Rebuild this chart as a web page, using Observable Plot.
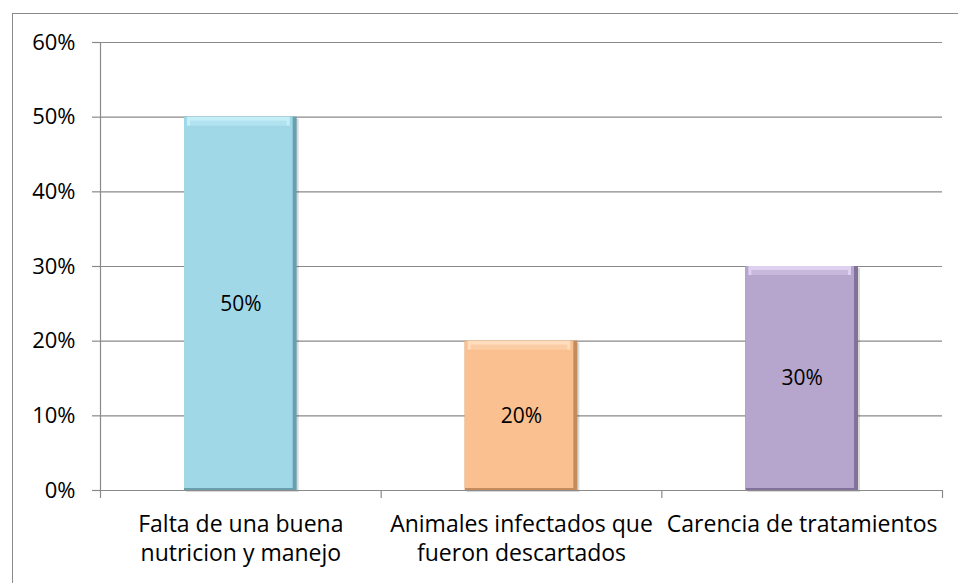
<!DOCTYPE html>
<html>
<head>
<meta charset="utf-8">
<script src="https://cdn.jsdelivr.net/npm/d3@7"></script>
<script src="https://cdn.jsdelivr.net/npm/@observablehq/plot@0.6"></script>
<style>
  html, body { margin: 0; padding: 0; background: #fff; }
  #wrap { position: relative; width: 958px; height: 583px; overflow: hidden; }
  #border { position: absolute; left: 12px; top: 13px; width: 980px; height: 620px;
            border: 1px solid #8a8a8a; box-sizing: border-box; }
  #chart { position: absolute; left: 0; top: 0; }
</style>
</head>
<body>
<div id="wrap"><div id="border"></div><div id="chart"></div></div>
<script>
// Causes and their share
const categories = [
  "Falta de una buena nutricion y manejo",
  "Animales infectados que fueron descartados",
  "Carencia de tratamientos"
];
const axisLabels = [
  "Falta de una buena\nnutricion y manejo",
  "Animales infectados que\nfueron descartados",
  "Carencia de tratamientos"
];
const values = [0.5, 0.2, 0.3];
const valueLabels = ["50%", "20%", "30%"];
const yTicks = [0, 0.1, 0.2, 0.3, 0.4, 0.5, 0.6];

// Bar palette: main fill, lit top edge, shaded right/bottom edge
const mainFill = ["#a0d8e8", "#fac090", "#b6a5cc"];
const litFill  = ["#c4eef8", "#ffdcbc", "#ddd0f0"];
const darkFill = ["#6a9fae", "#c48c5c", "#80729a"];

const rows = categories.map((c, i) => ({
  cat: c, label: axisLabels[i], i, value: values[i], text: valueLabels[i],
  main: mainFill[i], lit: litFill[i], dark: darkFill[i]
}));

const font = "'Open Sans', sans-serif";
const grid = "#8a8a8a";
const barInset = 84;

const bar = (extra) => ({
  x1: "i", x2: d => d.i + 1, y1: 0, y2: "value",
  insetLeft: barInset + (extra.l || 0), insetRight: barInset + (extra.r || 0),
  insetTop: extra.t || 0, insetBottom: extra.b || 0
});

const chart = Plot.plot({
  width: 958,
  height: 583,
  marginLeft: 100,
  marginRight: 16,
  marginTop: 42,
  marginBottom: 93,
  style: { fontFamily: font, fontSize: "22px", color: "#000", background: "transparent", overflow: "visible" },
  x: { type: "linear", domain: [0, 3] },
  y: { domain: [0, 0.6] },
  marks: [
    Plot.ruleY(yTicks.slice(1), { stroke: grid, strokeWidth: 1.2 }),
    // soft drop shadow
    Plot.rectY(rows, { ...bar({}), fill: "#000", fillOpacity: 0.15, dx: 2, dy: 2 }),
    // bevel layers: shaded edge, main face, lit band at the top
    Plot.rectY(rows, { ...bar({}), fill: "dark" }),
    Plot.rectY(rows, { ...bar({ r: 4, b: 2 }), fill: "main" }),
    Plot.rectY(rows, { ...bar({ l: 3, r: 7 }), y1: "value", y2: "value", insetTop: 0, insetBottom: -9, fill: "lit" }),
    Plot.rectY(rows, { ...bar({ l: 6, r: 10 }), y1: "value", y2: "value", insetTop: 4, insetBottom: -11, fill: "main", fillOpacity: 0.55 }),
    Plot.text(rows, {
      x: d => d.i + 0.5, y: d => d.value / 2, text: "text",
      fontSize: 21, fill: "#000"
    }),
    // axes
    Plot.ruleX([0], { y1: 0, y2: 0.6, stroke: grid, strokeWidth: 1.2 }),
    Plot.ruleY([0], { x1: 0, x2: 3, stroke: grid, strokeWidth: 1.2 }),
    Plot.axisY({
      ticks: yTicks, tickFormat: d => `${Math.round(d * 100)}%`,
      tickSize: 8, tickPadding: 17, stroke: grid, strokeWidth: 1.2,
      fontSize: 22, fill: "#000", label: null
    }),
    Plot.axisX({
      ticks: [0, 1, 2, 3], tickFormat: () => "", tickSize: 8,
      stroke: grid, strokeWidth: 1.2, label: null
    }),
    Plot.text(rows, {
      x: d => d.i + 0.5, y: 0, text: "label",
      dy: 21, frameAnchor: "top", lineAnchor: "top", lineHeight: 1.25,
      fontSize: 23, fill: "#000"
    })
  ]
});

document.getElementById("chart").appendChild(chart);
</script>
</body>
</html>
